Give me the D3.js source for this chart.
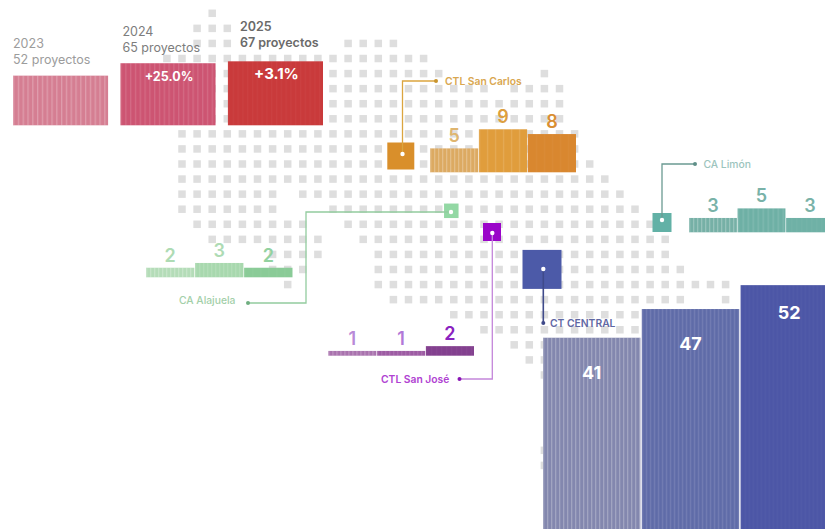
<!DOCTYPE html>
<html>
<head>
<meta charset="utf-8">
<script src="https://cdn.jsdelivr.net/npm/d3@7"></script>
<style>
    html, body { margin: 0; padding: 0; background: #fff; overflow: hidden; }
    svg { display: block; }
    text { font-family: Inter, "Noto Sans", sans-serif; }
</style>
</head>
<body>
<svg id="chart" width="825" height="529"></svg>
<script>

// Data

const years = ["2023", "2024", "2025"];
const totalProjects = [52, 65, 67];
const totalLabels = ["52 proyectos", "65 proyectos", "67 proyectos"];
const totalChanges = [null, "+25.0%", "+3.1%"];

const sanCarlos = [5, 9, 8];
const limon = [3, 5, 3];
const alajuela = [2, 3, 2];
const sanJose = [1, 1, 2];
const central = [41, 47, 52];

// Tile map of the country: for each row, the [first, last] columns that are filled
const mapRows = [
    [[2, 2]],
    [[1, 3]],
    [[1, 3], [11, 14]],
    [[-1, 16]],
    [[0, 17], [24, 24]],
    [[0, 20], [22, 25]],
    [[0, 25]],
    [[0, 25]],
    [[0, 26]],
    [[0, 26]],
    [[0, 27]],
    [[0, 28]],
    [[0, 6], [8, 29]],
    [[0, 6], [10, 30]],
    [[1, 8], [11, 31]],
    [[2, 9], [12, 32]],
    [[6, 9], [13, 32]],
    [[6, 8], [13, 33]],
    [[7, 7], [13, 36]],
    [[14, 33], [36, 36]],
    [[18, 30]],
    [[20, 30]],
    [[22, 24]],
    [[23, 24]],
    [[24, 24]],
    [],
    [],
    [],
    [],
    [[24, 24]],
    [[24, 24]]
];


// Layout and colours

const svg = d3.select("#chart");
const defs = svg.append("defs");

const col = d3.scaleLinear().domain([0, 36]).range([182, 725.6]);
const row = d3.scaleLinear().domain([0, 30]).range([13.3, 465.4]);
const tile = 7.5;

const heightSmall = d3.scaleLinear().domain([0, 10]).range([0, 47.8]);
const heightTotal = d3.scaleLinear().domain([0, 100]).range([0, 95.5]);

const groups = [
    {
        name: "CTL San Carlos", values: sanCarlos, x0: 430, x1: 576, base: 172.3,
        colors: ["#dcaa62", "#e09d3c", "#d9872f"], stripe: [4, 8, 8],
        num: ["#dfb56f", "#dd9f3f", "#d98e33"],
        text: "#d9a750", line: "#dba53f", dot: "#c9952f", square: "#d98f2b",
        size: 27, sx: 400.8, sy: 156,
        path: [[402.5, 154], [402.5, 81], [436, 81]],
        label: { x: 445, y: 81, anchor: "start", w: 600 }
    },
    {
        name: "CA Limón", values: limon, x0: 689, x1: 834, base: 232.3,
        colors: ["#76b0a6", "#6eb0a5", "#6fb1a6"], stripe: [4, 5, 5],
        num: ["#79b2a8", "#79b2a8", "#79b2a8"],
        text: "#9cc4bd", line: "#6b9a92", dot: "#5f8f88", square: "#62b1a6",
        size: 19, sx: 662, sy: 222.5,
        path: [[662, 220], [662, 164], [695, 164]],
        label: { x: 703.5, y: 164, anchor: "start", w: 500 }
    },
    {
        name: "CA Alajuela", values: alajuela, x0: 146, x1: 292.5, base: 277.3,
        colors: ["#b4dcb8", "#a8d8ae", "#8acb97"], stripe: [4, 4, 8],
        num: ["#aedbb4", "#aedbb4", "#93d2a0"],
        text: "#a3cfa9", line: "#93cc9f", dot: "#6fae80", square: "#93d8a4",
        size: 14.5, sx: 451.3, sy: 210.8,
        path: [[451, 212], [306, 212], [306, 303], [248, 303]],
        label: { x: 179, y: 300, anchor: "start", w: 500 }
    },
    {
        name: "CTL San José", values: sanJose, x0: 328.3, x1: 474, base: 355.7,
        colors: ["#a871ad", "#9d5ba3", "#83408f"], stripe: [4, 4, 5],
        num: ["#b98ad8", "#b278d8", "#8a22c0"],
        text: "#b042d2", line: "#c486da", dot: "#8a15b5", square: "#9a05c9",
        size: 18, sx: 492, sy: 232,
        path: [[492.3, 233], [492.3, 379], [459.5, 379]],
        label: { x: 381, y: 379, anchor: "start", w: 600 }
    }
];

const centralGroup = {
    name: "CT CENTRAL", values: central, x0: 543, x1: 838, base: 533.7,
    colors: ["#8387ae", "#5f6ba8", "#4c56a6"], stripe: [4, 4, 4],
    numDy: [41, 41, 34],
    text: "#5f67a3", line: "#3f4a8a", dot: "#3f4a8a", square: "#4c5aa8",
    size: 39, sx: 542, sy: 269.4,
    path: [[543.3, 269], [543.3, 323]],
    label: { x: 550, y: 323, anchor: "start", w: 600 }
};

const stripeOpacity = [0.24, 0.13, 0.03];
let stripeId = 0;

// Adds a white stripes pattern and returns its url
function stripes(pitch, opacity, x0) {
    let id = "stripes" + stripeId++;
    let p = defs.append("pattern")
        .attr("id", id)
        .attr("patternUnits", "userSpaceOnUse")
        .attr("x", x0)
        .attr("width", pitch)
        .attr("height", 10);
    p.append("rect")
        .attr("width", 1.3)
        .attr("height", 10)
        .attr("fill", "#fff")
        .attr("fill-opacity", opacity);
    return "url(#" + id + ")";
}

function drawBars(parent, group, h) {
    let x = d3.scaleBand().domain(years).range([group.x0, group.x1]).paddingInner(0.014);
    let g = parent.append("g").attr("class", "bars");
    let data = years.map((year, i) => ({ year, i, value: group.values[i] }));

    let bar = g.selectAll("g")
        .data(data)
        .enter()
        .append("g");

    bar.append("rect")
        .attr("x", d => x(d.year))
        .attr("y", d => group.base - h(d.value))
        .attr("width", x.bandwidth())
        .attr("height", d => h(d.value))
        .attr("fill", d => group.colors[d.i]);

    bar.append("rect")
        .attr("x", d => x(d.year))
        .attr("y", d => group.base - h(d.value))
        .attr("width", x.bandwidth())
        .attr("height", d => h(d.value))
        .attr("fill", d => stripes(group.stripe[d.i], stripeOpacity[d.i], x(d.year)));

    return { bar, x };
}


// Tile map

let tiles = [];
mapRows.forEach((spans, r) => {
    spans.forEach(([first, last]) => {
        d3.range(first, last + 1).forEach(c => tiles.push({ r, c }));
    });
});

svg.append("g").attr("class", "map")
    .selectAll("rect")
    .data(tiles)
    .enter()
    .append("rect")
    .attr("x", d => col(d.c) - tile / 2)
    .attr("y", d => row(d.r) - tile / 2)
    .attr("width", tile)
    .attr("height", tile)
    .attr("fill", "#dedede");


// Yearly totals, top left

const totals = {
    values: totalProjects, x0: 13, x1: 323, base: 125.3,
    colors: ["#d57e92", "#cd5472", "#c93a3b"], stripe: [4.8, 4.8, 4.8]
};
let xTotals = d3.scaleBand().domain(years).range([totals.x0, totals.x1]).paddingInner(0.115);
let totalsG = svg.append("g").attr("class", "totals");
let totalData = years.map((year, i) => ({ year, i, value: totalProjects[i], label: totalLabels[i], change: totalChanges[i] }));

totalsG.selectAll("rect.bar")
    .data(totalData)
    .enter()
    .append("rect")
    .attr("class", "bar")
    .attr("x", d => xTotals(d.year))
    .attr("y", d => totals.base - heightTotal(d.value))
    .attr("width", xTotals.bandwidth())
    .attr("height", d => heightTotal(d.value))
    .attr("fill", d => totals.colors[d.i]);

totalsG.selectAll("rect.stripe")
    .data(totalData)
    .enter()
    .append("rect")
    .attr("class", "stripe")
    .attr("x", d => xTotals(d.year))
    .attr("y", d => totals.base - heightTotal(d.value))
    .attr("width", xTotals.bandwidth())
    .attr("height", d => heightTotal(d.value))
    .attr("fill", d => stripes(totals.stripe[d.i], stripeOpacity[d.i], xTotals(d.year)));

const totalTextColor = ["#9c9c9c", "#7d7d7d", "#6a6a6a"];
const totalTextWeight = [400, 400, 600];
const totalTextDx = [0, 2, 12];
const totalTextDy = [0, 0.5, -2];
const changeSize = [0, 12.5, 15];

totalsG.selectAll("text.year")
    .data(totalData)
    .enter()
    .append("text")
    .attr("class", "year")
    .attr("x", d => xTotals(d.year) + totalTextDx[d.i])
    .attr("y", d => totals.base - heightTotal(d.value) - 28 + totalTextDy[d.i])
    .attr("font-size", 12.5)
    .attr("font-weight", d => totalTextWeight[d.i])
    .attr("fill", d => totalTextColor[d.i])
    .text(d => d.year);

totalsG.selectAll("text.count")
    .data(totalData)
    .enter()
    .append("text")
    .attr("class", "count")
    .attr("x", d => xTotals(d.year) + totalTextDx[d.i])
    .attr("y", d => totals.base - heightTotal(d.value) - 12 + totalTextDy[d.i])
    .attr("font-size", 12.5)
    .attr("font-weight", d => totalTextWeight[d.i])
    .attr("fill", d => totalTextColor[d.i])
    .text(d => d.label);

totalsG.selectAll("text.change")
    .data(totalData.filter(d => d.change))
    .enter()
    .append("text")
    .attr("class", "change")
    .attr("x", d => xTotals(d.year) + xTotals.bandwidth() / 2 + 1)
    .attr("y", d => totals.base - heightTotal(d.value) + 18)
    .attr("text-anchor", "middle")
    .attr("font-size", d => changeSize[d.i])
    .attr("font-weight", 700)
    .attr("fill", "#fff")
    .text(d => d.change);


// Regional offices: bars, leader line, marker, label

function drawLeader(group) {
    let g = svg.append("g").attr("class", "leader");
    let line = d3.line();
    let pts = group.path;
    let end = pts[pts.length - 1];

    g.append("rect")
        .attr("x", group.sx - group.size / 2)
        .attr("y", group.sy - group.size / 2)
        .attr("width", group.size)
        .attr("height", group.size)
        .attr("fill", group.square);

    g.append("path")
        .attr("d", line(pts))
        .attr("fill", "none")
        .attr("stroke", group.line)
        .attr("stroke-width", group === centralGroup ? 1.6 : 1.3);

    g.append("circle")
        .attr("cx", end[0])
        .attr("cy", end[1])
        .attr("r", 2)
        .attr("fill", group.dot);

    g.append("circle")
        .attr("cx", pts[0][0])
        .attr("cy", pts[0][1])
        .attr("r", 2.2)
        .attr("fill", "#fff");

    g.append("text")
        .attr("x", group.label.x)
        .attr("y", group.label.y)
        .attr("dy", "0.35em")
        .attr("font-size", 10.3)
        .attr("font-weight", group.label.w)
        .attr("fill", group.text)
        .text(group.name);
}

groups.forEach(group => {
    let { bar, x } = drawBars(svg, group, heightSmall);

    bar.append("text")
        .attr("x", d => x(d.year) + x.bandwidth() / 2)
        .attr("y", d => group.base - heightSmall(d.value) - 6)
        .attr("text-anchor", "middle")
        .attr("font-size", 18)
        .attr("font-weight", 600)
        .attr("fill", d => group.num[d.i])
        .text(d => d.value);

    drawLeader(group);
});

// Central office is much bigger, its numbers sit inside the bars
let centralBars = drawBars(svg, centralGroup, heightSmall);

centralBars.bar.append("text")
    .attr("x", d => centralBars.x(d.year) + centralBars.x.bandwidth() / 2)
    .attr("y", d => centralGroup.base - heightSmall(d.value) + centralGroup.numDy[d.i])
    .attr("text-anchor", "middle")
    .attr("font-size", 18)
    .attr("font-weight", 700)
    .attr("fill", "#fff")
    .text(d => d.value);

drawLeader(centralGroup);

</script>
</body>
</html>
